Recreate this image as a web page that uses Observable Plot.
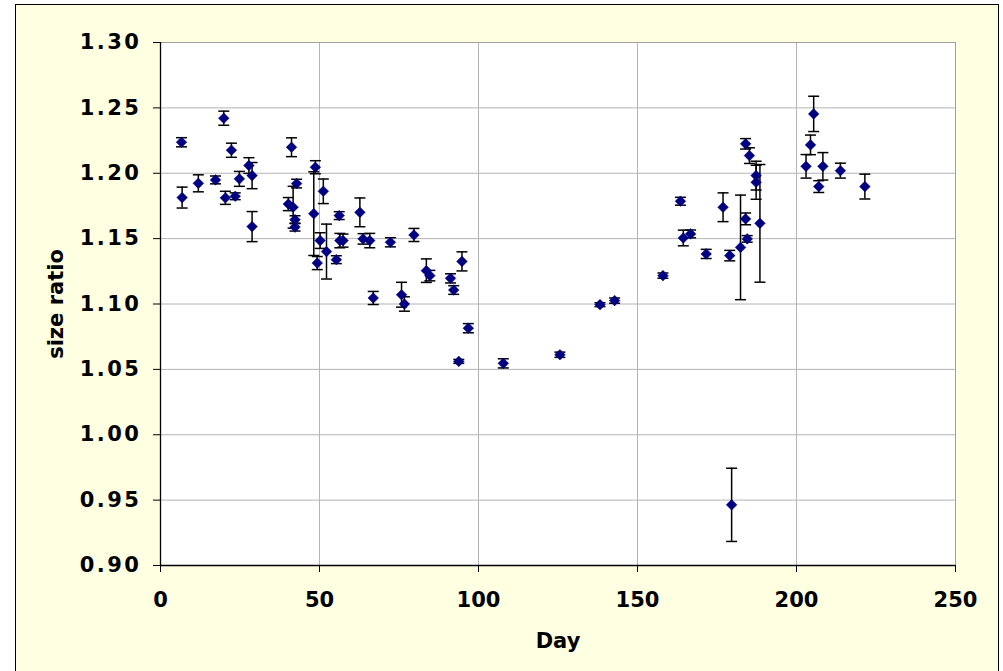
<!DOCTYPE html>
<html><head><meta charset="utf-8">
<script src="https://cdn.jsdelivr.net/npm/d3@7"></script>
<script src="https://cdn.jsdelivr.net/npm/@observablehq/plot@0.6"></script>
<style>
html,body{margin:0;padding:0;background:#fff;width:1003px;height:671px;overflow:hidden;}
#frame{position:absolute;left:15px;top:4px;width:984px;height:668px;background:#FFFFE1;border:1.5px solid #000;box-sizing:border-box;}
#chart{position:absolute;left:0;top:0;}
#chart g[aria-label="y-axis tick label"] text{letter-spacing:2.5px;}
</style></head><body><div id="frame"></div><div id="chart"></div>
<script>
const days = [6.6, 6.8, 11.9, 17.3, 19.9, 20.4, 22.3, 23.5, 24.8, 27.8, 28.8, 28.8, 41.2, 40.2, 41.7, 42.8, 42.3, 42.3, 48.7, 48.2, 51.2, 50.2, 49.3, 52.2, 56.2, 55.3, 56.4, 57.4, 62.7, 63.7, 65.8, 66.9, 72.3, 79.7, 75.8, 76.7, 83.6, 84.7, 91.2, 92.2, 94.8, 96.8, 93.8, 107.8, 125.6, 138.2, 142.8, 158, 163.5, 164.4, 166.7, 171.6, 176.9, 179, 182.4, 184, 184.5, 184, 185.2, 187.3, 187.3, 188.5, 179.6, 205.4, 204.4, 203, 208.3, 207, 213.8, 221.5];
const ratios = [1.2237, 1.1814, 1.1923, 1.1949, 1.2421, 1.1812, 1.2176, 1.1824, 1.1957, 1.2059, 1.1982, 1.1592, 1.2199, 1.1764, 1.1740, 1.1921, 1.1645, 1.1588, 1.2046, 1.1691, 1.1862, 1.1485, 1.1313, 1.1401, 1.1676, 1.1339, 1.1485, 1.1485, 1.1701, 1.1498, 1.1485, 1.1046, 1.1472, 1.1528, 1.1071, 1.1000, 1.1255, 1.1217, 1.1196, 1.1107, 1.1326, 1.0815, 1.0561, 1.0546, 1.0612, 1.0995, 1.1026, 1.1217, 1.1786, 1.1505, 1.1536, 1.1383, 1.1740, 1.1370, 1.1433, 1.1651, 1.1498, 1.2225, 1.2135, 1.1982, 1.1931, 1.1617, 0.9464, 1.2454, 1.2217, 1.2053, 1.2053, 1.1898, 1.2020, 1.1898];
const errors = [0.0035, 0.008, 0.0065, 0.003, 0.0054, 0.005, 0.0054, 0.0026, 0.0057, 0.006, 0.01, 0.0115, 0.0072, 0.005, 0.016, 0.0033, 0.003, 0.003, 0.005, 0.032, 0.0094, 0.006, 0.005, 0.021, 0.003, 0.003, 0.0055, 0.005, 0.011, 0.004, 0.0055, 0.005, 0.0035, 0.005, 0.0095, 0.0055, 0.009, 0.004, 0.0035, 0.0033, 0.0073, 0.0035, 0.0015, 0.0035, 0.002, 0.0015, 0.002, 0.002, 0.003, 0.006, 0.003, 0.0035, 0.011, 0.004, 0.040, 0.0045, 0.0025, 0.004, 0.006, 0.011, 0.013, 0.045, 0.028, 0.0135, 0.0075, 0.009, 0.0105, 0.0045, 0.0057, 0.0095];
const xTicks = [0, 50, 100, 150, 200, 250];
const yTicks = [0.90, 0.95, 1.00, 1.05, 1.10, 1.15, 1.20, 1.25, 1.30];
const xLabel = "Day";
const yLabel = "size ratio";

const data = days.map((d, i) => ({day: d, ratio: ratios[i], lo: ratios[i] - errors[i], hi: ratios[i] + errors[i]}));

const capSymbol = {
  draw(context, size) {
    const r = Math.sqrt(size / Math.PI);
    context.moveTo(-r, 0);
    context.lineTo(r, 0);
  }
};

const chart = Plot.plot({
  width: 1003,
  height: 671,
  marginLeft: 160,
  marginRight: 48,
  marginTop: 42,
  marginBottom: 106,
  style: {background: "transparent", fontFamily: "'DejaVu Sans', Verdana, sans-serif", fontWeight: "bold", fontSize: "21px", color: "#000"},
  x: {domain: [0, 250]},
  y: {domain: [0.9, 1.3]},
  marks: [
    Plot.frame({fill: "white", stroke: null}),
    Plot.gridX({ticks: xTicks, stroke: "#b4b4b4", strokeOpacity: 1}),
    Plot.gridY({ticks: yTicks, stroke: "#b4b4b4", strokeOpacity: 1}),
    Plot.frame({stroke: "#a0a0a0"}),
    Plot.axisX({ticks: xTicks, tickSize: 7, tickPadding: 20, tickFormat: d3.format("d"), label: xLabel, labelAnchor: "center", labelArrow: "none", labelOffset: 82}),
    Plot.axisY({ticks: yTicks, tickSize: 7, tickPadding: 12, tickFormat: d3.format(".2f"), label: yLabel, labelAnchor: "center", labelArrow: "none", labelOffset: 112}),
    Plot.ruleX([0], {stroke: "#000", strokeWidth: 1.3}),
    Plot.ruleY([0.9], {stroke: "#000", strokeWidth: 1.3}),
    Plot.ruleX(data, {x: "day", y1: "lo", y2: "hi", stroke: "#000", strokeWidth: 1.5}),
    Plot.dot(data, {x: "day", y: "lo", symbol: capSymbol, r: 5.5, fill: "none", stroke: "#000", strokeWidth: 1.5}),
    Plot.dot(data, {x: "day", y: "hi", symbol: capSymbol, r: 5.5, fill: "none", stroke: "#000", strokeWidth: 1.5}),
    Plot.dot(data, {x: "day", y: "ratio", symbol: "diamond2", r: 4.8, fill: "#000080", stroke: "#000080", strokeWidth: 0.5})
  ]
});
document.getElementById("chart").appendChild(chart);
</script>
</body></html>
